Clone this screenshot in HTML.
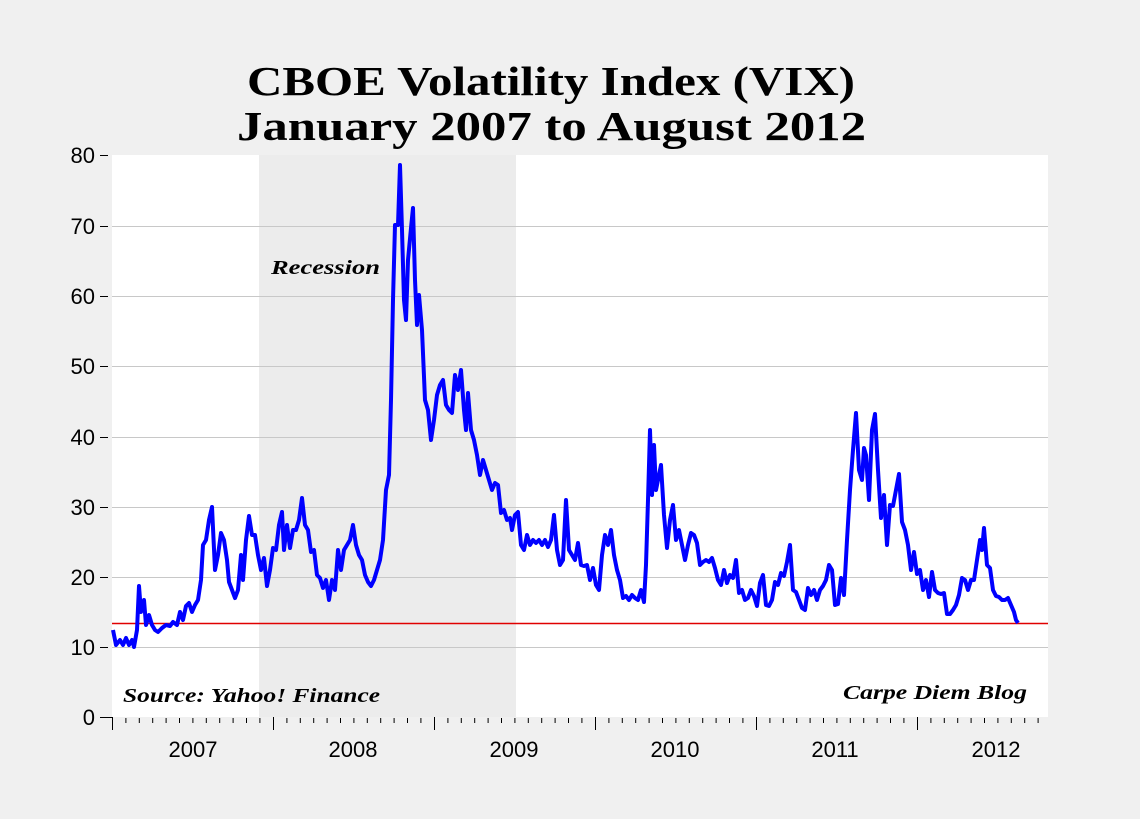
<!DOCTYPE html>
<html><head><style>
body{margin:0;background:#f0f0f0;}
svg{display:block}
</style></head><body>
<svg width="1140" height="819" xmlns="http://www.w3.org/2000/svg">
<rect width="1140" height="819" fill="#f0f0f0"/>
<rect x="112" y="155" width="936" height="562" fill="#fff"/>
<rect x="259" y="155" width="257" height="562" fill="#ececec"/>
<g stroke="#c8c8c8" stroke-width="1">
<line x1="112" x2="1048" y1="647.5" y2="647.5"/>
<line x1="112" x2="1048" y1="577.5" y2="577.5"/>
<line x1="112" x2="1048" y1="507.5" y2="507.5"/>
<line x1="112" x2="1048" y1="437.5" y2="437.5"/>
<line x1="112" x2="1048" y1="366.5" y2="366.5"/>
<line x1="112" x2="1048" y1="296.5" y2="296.5"/>
<line x1="112" x2="1048" y1="226.5" y2="226.5"/>
</g>
<g stroke="#000" stroke-width="1">
<line x1="100" x2="112" y1="717.5" y2="717.5"/>
<line x1="100" x2="108" y1="647.5" y2="647.5"/>
<line x1="100" x2="108" y1="577.5" y2="577.5"/>
<line x1="100" x2="108" y1="507.5" y2="507.5"/>
<line x1="100" x2="108" y1="437.5" y2="437.5"/>
<line x1="100" x2="108" y1="366.5" y2="366.5"/>
<line x1="100" x2="108" y1="296.5" y2="296.5"/>
<line x1="100" x2="108" y1="226.5" y2="226.5"/>
<line x1="100" x2="108" y1="155.5" y2="155.5"/>
</g>
<g font-family="Liberation Sans, sans-serif" font-size="22" fill="#000" text-anchor="end">
<text x="95" y="725">0</text><text x="95" y="655">10</text><text x="95" y="585">20</text>
<text x="95" y="515">30</text><text x="95" y="445">40</text><text x="95" y="374">50</text>
<text x="95" y="304">60</text><text x="95" y="234">70</text><text x="95" y="163">80</text>
</g>
<g font-family="Liberation Sans, sans-serif" font-size="22" fill="#000" text-anchor="middle">
<text x="193" y="757">2007</text><text x="353" y="757">2008</text><text x="514" y="757">2009</text>
<text x="675" y="757">2010</text><text x="835" y="757">2011</text><text x="996" y="757">2012</text>
</g>
<g font-family="Liberation Serif, serif" font-weight="bold" font-size="41" fill="#000">
<text x="247" y="95" textLength="608" lengthAdjust="spacingAndGlyphs">CBOE Volatility Index (VIX)</text>
<text x="237" y="140" textLength="629" lengthAdjust="spacingAndGlyphs">January 2007 to August 2012</text>
</g>
<g font-family="Liberation Serif, serif" font-weight="bold" font-style="italic" font-size="20" fill="#000">
<text x="271" y="274" textLength="109" lengthAdjust="spacingAndGlyphs">Recession</text>
<text x="123" y="702" textLength="257" lengthAdjust="spacingAndGlyphs">Source: Yahoo! Finance</text>
<text x="843" y="699" textLength="184" lengthAdjust="spacingAndGlyphs">Carpe Diem Blog</text>
</g>
<line x1="112" x2="1048" y1="623.5" y2="623.5" stroke="#e00000" stroke-width="1.5"/>
<polyline fill="none" stroke="#0000ff" stroke-width="4" stroke-linejoin="round" points="113,630 116,645 120,640 123,645 126,638 129,645 132,640 134,647 137,630 139,586 141,612 144,600 146,625 149,615 152,625 155,630 158,632 162,628 166,625 170,626 173,622 177,625 180,612 183,620 186,606 189,603 192,612 195,605 198,600 201,580 203,545 206,540 209,520 212,507 215,570 218,555 221,533 224,540 227,560 229,582 232,590 235,598 238,590 241,555 243,580 246,540 249,516 252,535 255,535 258,555 261,570 264,558 267,586 270,570 273,548 276,550 279,525 282,512 284,550 287,525 290,548 293,530 296,530 299,520 302,498 305,525 308,530 311,552 314,550 317,575 320,578 323,588 326,580 329,600 332,580 335,590 338,550 341,570 344,550 347,545 350,540 353,525 356,545 359,555 362,560 365,575 368,582 371,586 374,580 377,570 380,560 383,540 386,490 389,475 391,400 393,300 395,225 398,225 400,165 402,230 404,300 406,320 408,260 411,228 413,208 415,280 417,325 419,295 422,330 425,400 428,410 431,440 434,420 437,395 440,385 443,380 446,405 449,410 452,413 455,375 458,390 461,370 464,410 466,430 468,393 471,430 474,440 477,455 480,475 483,460 486,470 489,480 492,490 495,483 498,485 501,513 504,510 507,520 510,518 512,530 515,515 518,512 521,545 524,550 527,535 530,545 533,540 536,543 539,540 542,545 545,540 548,547 551,540 554,515 557,550 560,565 563,560 566,500 569,550 572,555 575,560 578,543 581,565 584,566 587,565 590,580 593,568 596,585 599,590 602,555 605,535 608,545 611,530 614,555 617,570 620,580 623,598 626,596 629,600 632,595 635,598 638,600 641,590 644,602 646,565 648,500 650,430 652,495 654,445 656,490 658,480 661,465 664,515 667,548 670,520 673,505 676,540 679,530 682,545 685,560 688,545 691,533 694,535 697,543 700,565 703,562 706,560 709,562 712,558 715,568 718,580 721,585 724,570 727,583 730,575 733,578 736,560 739,593 742,590 745,600 748,598 751,590 754,596 757,606 760,583 763,575 766,605 769,606 772,600 775,582 778,585 781,573 784,576 787,562 790,545 793,590 796,592 799,600 802,608 805,610 808,588 811,595 814,590 817,600 820,590 823,586 826,580 829,565 832,570 835,605 838,604 841,578 844,595 847,540 850,490 853,450 856,413 859,470 862,480 864,448 866,455 869,500 872,430 875,414 878,470 881,518 884,495 887,545 890,505 893,506 896,490 899,474 902,522 905,530 908,545 911,570 914,552 917,574 920,570 923,590 926,580 929,597 932,572 935,590 938,593 941,594 944,593 947,614 950,614 953,610 956,605 959,595 962,578 965,580 968,590 971,580 974,580 977,560 980,540 982,550 984,528 987,565 990,568 993,590 996,596 999,597 1002,600 1005,600 1008,598 1011,605 1014,612 1016,620 1018,623"/>
<g stroke="#000" stroke-width="1">
<path d="M112.5 717v13M125.9 718v5M139.3 718v5M152.7 718v5M166.1 718v5M179.5 718v5M192.9 718v5M206.3 718v5M219.7 718v5M233.1 718v5M246.5 718v5M259.9 718v5M273.5 717v13M286.9 718v5M300.3 718v5M313.7 718v5M327.1 718v5M340.5 718v5M353.9 718v5M367.3 718v5M380.7 718v5M394.1 718v5M407.5 718v5M420.9 718v5M434.5 717v13M447.9 718v5M461.3 718v5M474.7 718v5M488.1 718v5M501.5 718v5M514.9 718v5M528.3 718v5M541.7 718v5M555.1 718v5M568.5 718v5M581.9 718v5M595.5 717v13M608.9 718v5M622.3 718v5M635.7 718v5M649.1 718v5M662.5 718v5M675.9 718v5M689.3 718v5M702.7 718v5M716.1 718v5M729.5 718v5M742.9 718v5M756.5 717v13M769.9 718v5M783.3 718v5M796.7 718v5M810.1 718v5M823.5 718v5M836.9 718v5M850.3 718v5M863.7 718v5M877.1 718v5M890.5 718v5M903.9 718v5M917.5 717v13M930.9 718v5M944.3 718v5M957.7 718v5M971.1 718v5M984.5 718v5M997.9 718v5M1011.3 718v5M1024.7 718v5M1038.1 718v5"/>
</g>
</svg>
</body></html>
